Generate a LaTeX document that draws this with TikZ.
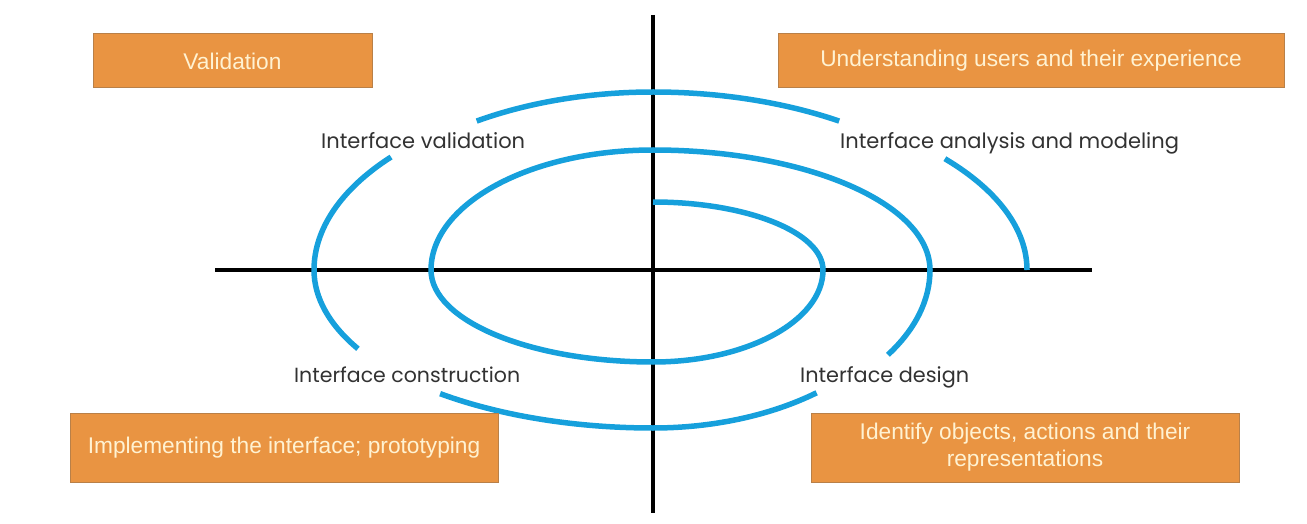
\documentclass[tikz,border=0pt]{standalone}
\usepackage{fontspec}
\setmainfont{Liberation Sans}
\newfontfamily\labfam{Poppins}
\usetikzlibrary{calc}
\definecolor{spiralblue}{RGB}{22,160,220}
\definecolor{boxfill}{RGB}{233,148,66}
\definecolor{boxline}{RGB}{185,128,72}
\definecolor{boxtext}{RGB}{255,242,210}
\definecolor{labgray}{RGB}{50,50,50}
\begin{document}
\begin{tikzpicture}[x=1pt,y=1pt,
  axis/.style={draw=black,line width=3.5pt},
  spiral/.style={draw=spiralblue,line width=5.5pt},
  box/.style={draw=boxline,line width=1pt,fill=boxfill,text=boxtext,
    font=\fontsize{22.7}{27}\selectfont,inner sep=0pt,align=center},
  lab/.style={font=\labfam\fontsize{21}{25}\selectfont,text=labgray,inner sep=0pt,anchor=base west}]
\useasboundingbox (0,0) rectangle (1307,523);
\coordinate (c) at (653,253);
\coordinate (hl) at (215,253);
\coordinate (hr) at (1092,253);
\coordinate (vt) at (653,508);
\coordinate (vb) at (653,10);
\draw[axis] (hl) -- (hr);
\draw[axis] (vt) -- (vb);
% spiral
\draw[spiral] ($(c)+(90:170 and 68)$)
  arc[start angle=90,end angle=0,x radius=170,y radius=68]
  arc[start angle=0,end angle=-90,x radius=170,y radius=92]
  arc[start angle=270,end angle=180,x radius=222,y radius=92]
  arc[start angle=180,end angle=90,x radius=222,y radius=120]
  arc[start angle=90,end angle=0,x radius=277,y radius=120]
  arc[start angle=0,end angle=-32,x radius=277,y radius=160];
\draw[spiral] ($(c)+(-51:260 and 158)$)
  arc[start angle=-51,end angle=-90,x radius=260,y radius=158]
  arc[start angle=-90,end angle=-128.5,x radius=342,y radius=158];
\draw[spiral] ($(c)+(209.5:339 and 160)$)
  arc[start angle=209.5,end angle=180,x radius=339,y radius=160]
  arc[start angle=180,end angle=140.6,x radius=339,y radius=178];
\draw[spiral] ($(c)+(123.2:322 and 178)$)
  arc[start angle=123.2,end angle=90,x radius=322,y radius=178]
  arc[start angle=90,end angle=56.8,x radius=340,y radius=178];
\draw[spiral] ($(c)+(38.7:374 and 178)$)
  arc[start angle=38.7,end angle=0,x radius=374,y radius=178];
% labels
\node[lab] (lv) at (321,374) {Interface validation};
\node[lab] (la) at (840,374) {Interface analysis and modeling};
\node[lab] (lc) at (294,141) {\fontsize{20.5}{25}\selectfont Interface construction};
\node[lab] (ld) at (800,141) {\fontsize{20.8}{25}\selectfont Interface design};
% boxes
\node[box,minimum width=279,minimum height=54] (b1) at (232.5,462) {Validation};
\node[box,minimum width=506,minimum height=54] (b2) at (1031,462) {Understanding users and their experience};
\node[box,minimum width=428,minimum height=69] (b3) at (284,75.5) {Implementing the interface; prototyping};
\node[box,minimum width=428,minimum height=69] (b4) at (1025,75.5) {Identify objects, actions and their\\representations};
\end{tikzpicture}
\end{document}
